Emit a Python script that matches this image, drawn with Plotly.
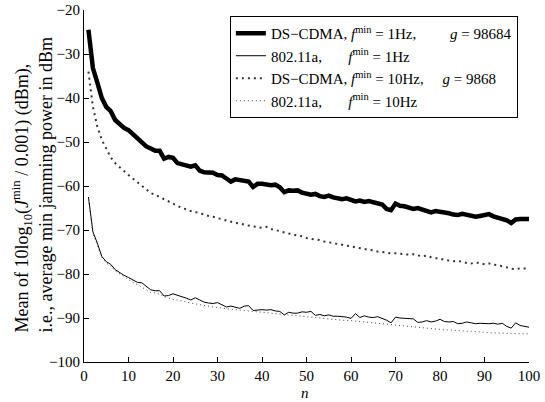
import plotly.graph_objects as go

n = list(range(1, 101))

ds_cdma_1hz = [
    -24.5, -33.2, -36.5, -40.0, -42.0, -43.0, -45.0, -46.0, -46.8, -47.3,
    -48.3, -49.0, -50.0, -51.0, -51.5, -52.0, -52.0, -53.8, -53.4, -53.6,
    -54.8, -55.0, -55.2, -55.6, -55.3, -56.5, -56.9, -57.0, -57.0, -57.5,
    -57.6, -58.3, -59.0, -58.5, -58.7, -58.8, -59.0, -60.2, -59.5, -59.5,
    -59.7, -59.8, -59.7, -60.3, -61.4, -61.0, -61.1, -61.0, -61.5, -61.8,
    -62.0, -61.8, -62.3, -62.5, -62.2, -62.6, -62.9, -63.0, -62.8, -63.2,
    -63.5, -63.3, -63.6, -63.4, -63.7, -63.9, -64.2, -65.2, -65.5, -64.0,
    -64.5, -64.6, -64.8, -65.2, -65.0, -65.3, -65.8, -66.0, -65.7, -65.8,
    -66.0, -66.2, -66.5, -66.6, -66.3, -66.5, -66.8, -67.0, -66.8, -66.5,
    -66.4, -66.9, -67.2, -67.5, -67.8, -68.4, -67.6, -67.5, -67.6, -67.5,
]

wifi_1hz = [
    -62.5, -70.4, -73.0, -76.0, -77.2, -77.8, -79.0, -79.7, -80.3, -80.8,
    -81.4, -81.9, -82.0, -82.8, -83.6, -83.8, -83.8, -85.0, -84.9, -84.5,
    -84.8, -85.2, -85.5, -85.9, -85.4, -85.9, -86.4, -86.6, -86.7, -86.5,
    -87.0, -87.5, -87.3, -87.5, -87.8, -87.3, -87.2, -88.3, -88.2, -88.1,
    -88.2, -88.1, -88.4, -88.5, -89.3, -88.7, -88.9, -88.9, -88.6, -88.7,
    -88.5, -89.4, -89.2, -89.5, -89.3, -89.6, -89.6, -89.7, -89.8, -90.1,
    -89.0, -89.9, -89.5, -89.8, -89.9, -89.7, -90.1, -90.5, -91.1, -89.8,
    -90.0, -90.1, -90.1, -90.2, -91.0, -90.9, -90.6, -90.9, -90.7, -90.3,
    -90.8, -90.9, -90.8, -91.3, -91.2, -90.9, -91.1, -91.3, -91.2, -91.3,
    -91.3, -91.2, -91.4, -91.2, -91.9, -92.3, -91.1, -91.7, -91.9, -92.1,
]

ds_cdma_10hz = [
    -34.0, -42.0, -46.5, -49.5, -51.5, -53.5, -54.8, -55.8, -56.6, -57.5,
    -58.3, -59.0, -59.8, -60.8, -61.6, -62.0, -62.5, -63.0, -63.6, -64.1,
    -64.6, -65.0, -65.3, -65.7, -65.9, -66.2, -66.6, -66.8, -67.0, -67.3,
    -67.5, -67.8, -68.1, -68.4, -68.5, -68.8, -69.0, -69.2, -69.4, -69.5,
    -69.3, -69.8, -70.0, -70.3, -70.5, -70.8, -71.0, -71.3, -71.4, -71.8,
    -72.0, -72.1, -72.3, -72.6, -72.8, -73.0, -73.1, -73.3, -73.5, -73.8,
    -73.9, -74.2, -74.4, -74.5, -74.6, -74.9, -75.0, -75.2, -75.3, -75.3,
    -75.4, -75.5, -75.6, -75.5, -75.7, -76.0, -75.8, -76.2, -76.4, -76.5,
    -76.8, -76.9, -77.1, -77.0, -77.3, -77.5, -77.6, -77.4, -77.5, -77.8,
    -77.6, -77.9, -78.0, -78.2, -78.5, -78.8, -78.9, -78.7, -78.8, -78.8,
]

wifi_10hz = [
    -63.0, -70.8, -73.5, -76.2, -77.5, -78.2, -79.3, -80.0, -80.7, -81.3,
    -81.9, -82.4, -83.0, -83.5, -84.2, -84.3, -84.6, -85.1, -85.5, -85.8,
    -85.9, -86.2, -86.4, -86.6, -86.8, -87.0, -87.1, -87.3, -87.5, -87.6,
    -87.8, -87.9, -88.0, -88.1, -88.3, -88.4, -88.4, -88.6, -88.7, -88.7,
    -88.8, -89.0, -89.1, -89.2, -89.3, -89.4, -89.5, -89.6, -89.6, -89.8,
    -89.9, -90.0, -90.1, -90.1, -90.3, -90.4, -90.4, -90.5, -90.6, -90.6,
    -90.7, -90.8, -90.9, -91.0, -91.1, -91.2, -91.3, -91.4, -91.5, -91.7,
    -91.8, -91.9, -92.0, -92.0, -92.1, -92.2, -92.3, -92.5, -92.5, -92.6,
    -92.7, -92.7, -92.8, -92.9, -92.9, -93.0, -93.0, -93.1, -93.2, -93.3,
    -93.3, -93.4, -93.4, -93.5, -93.5, -93.5, -93.6, -93.6, -93.6, -93.6,
]

NB = "\u00a0"
names = [
    "DS\u2212CDMA, <i>f</i><sup>min</sup> = 1Hz," + NB * 9 + "<i>g</i> = 98684",
    "802.11a," + NB * 7 + "<i>f</i><sup>min</sup> = 1Hz",
    "DS\u2212CDMA, <i>f</i><sup>min</sup> = 10Hz," + NB * 5 + "<i>g</i> = 9868",
    "802.11a," + NB * 7 + "<i>f</i><sup>min</sup> = 10Hz",
]

x_ticks = list(range(0, 101, 10))
y_ticks = list(range(-100, -19, 10))

FONT = "Liberation Serif, Times New Roman, serif"

fig = go.Figure()
fig.add_trace(go.Scatter(x=n, y=ds_cdma_1hz, mode="lines", name=names[0],
                         line=dict(color="black", width=4.5)))
fig.add_trace(go.Scatter(x=n, y=wifi_1hz, mode="lines", name=names[1],
                         line=dict(color="black", width=1)))
fig.add_trace(go.Scatter(x=n, y=ds_cdma_10hz, mode="lines", name=names[2],
                         line=dict(color="#333333", width=2, dash="2px,4px")))
fig.add_trace(go.Scatter(x=n, y=wifi_10hz, mode="lines", name=names[3],
                         line=dict(color="#444444", width=1, dash="1px,3px")))

fig.update_layout(
    width=545, height=402,
    margin=dict(l=84, r=16, t=10, b=40, autoexpand=False),
    paper_bgcolor="white", plot_bgcolor="white",
    font=dict(family=FONT, size=15, color="black"),
    showlegend=True,
    legend=dict(x=0.975, xanchor="right", y=0.983, yanchor="top",
                bordercolor="black", borderwidth=1, bgcolor="white",
                font=dict(family=FONT, size=15), tracegroupgap=0,
                itemwidth=30),
    xaxis=dict(range=[0, 100], tickvals=x_ticks, showline=True, linecolor="black",
               linewidth=1, ticks="inside", ticklen=5, tickcolor="black",
               showgrid=False, zeroline=False, mirror=False, automargin=False,
               tickfont=dict(family=FONT, size=15)),
    yaxis=dict(range=[-100, -20], tickvals=y_ticks, showline=True, linecolor="black",
               linewidth=1, ticks="inside", ticklen=5, tickcolor="black",
               showgrid=False, zeroline=False, mirror=False, automargin=False,
               tickfont=dict(family=FONT, size=15)),
    annotations=[
        dict(text="Mean of 10log<sub>10</sub>(<i>J</i><sup>min</sup> / 0.001) (dBm),",
             xref="paper", yref="paper", x=-0.1393, y=0.0767, xanchor="center",
             yanchor="bottom", textangle=-90, showarrow=False,
             font=dict(family=FONT, size=18)),
        dict(text="i.e., average min jamming power in dBm",
             xref="paper", yref="paper", x=-0.0876, y=0.0767, xanchor="center",
             yanchor="bottom", textangle=-90, showarrow=False,
             font=dict(family=FONT, size=18)),
        dict(text="<i>n</i>", xref="paper", yref="paper", x=0.497, y=-0.088,
             xanchor="center", yanchor="middle", showarrow=False,
             font=dict(family=FONT, size=15)),
    ],
)

fig.write_html("out.html", config={"displayModeBar": False},
               post_script="document.body.style.margin='0';")
